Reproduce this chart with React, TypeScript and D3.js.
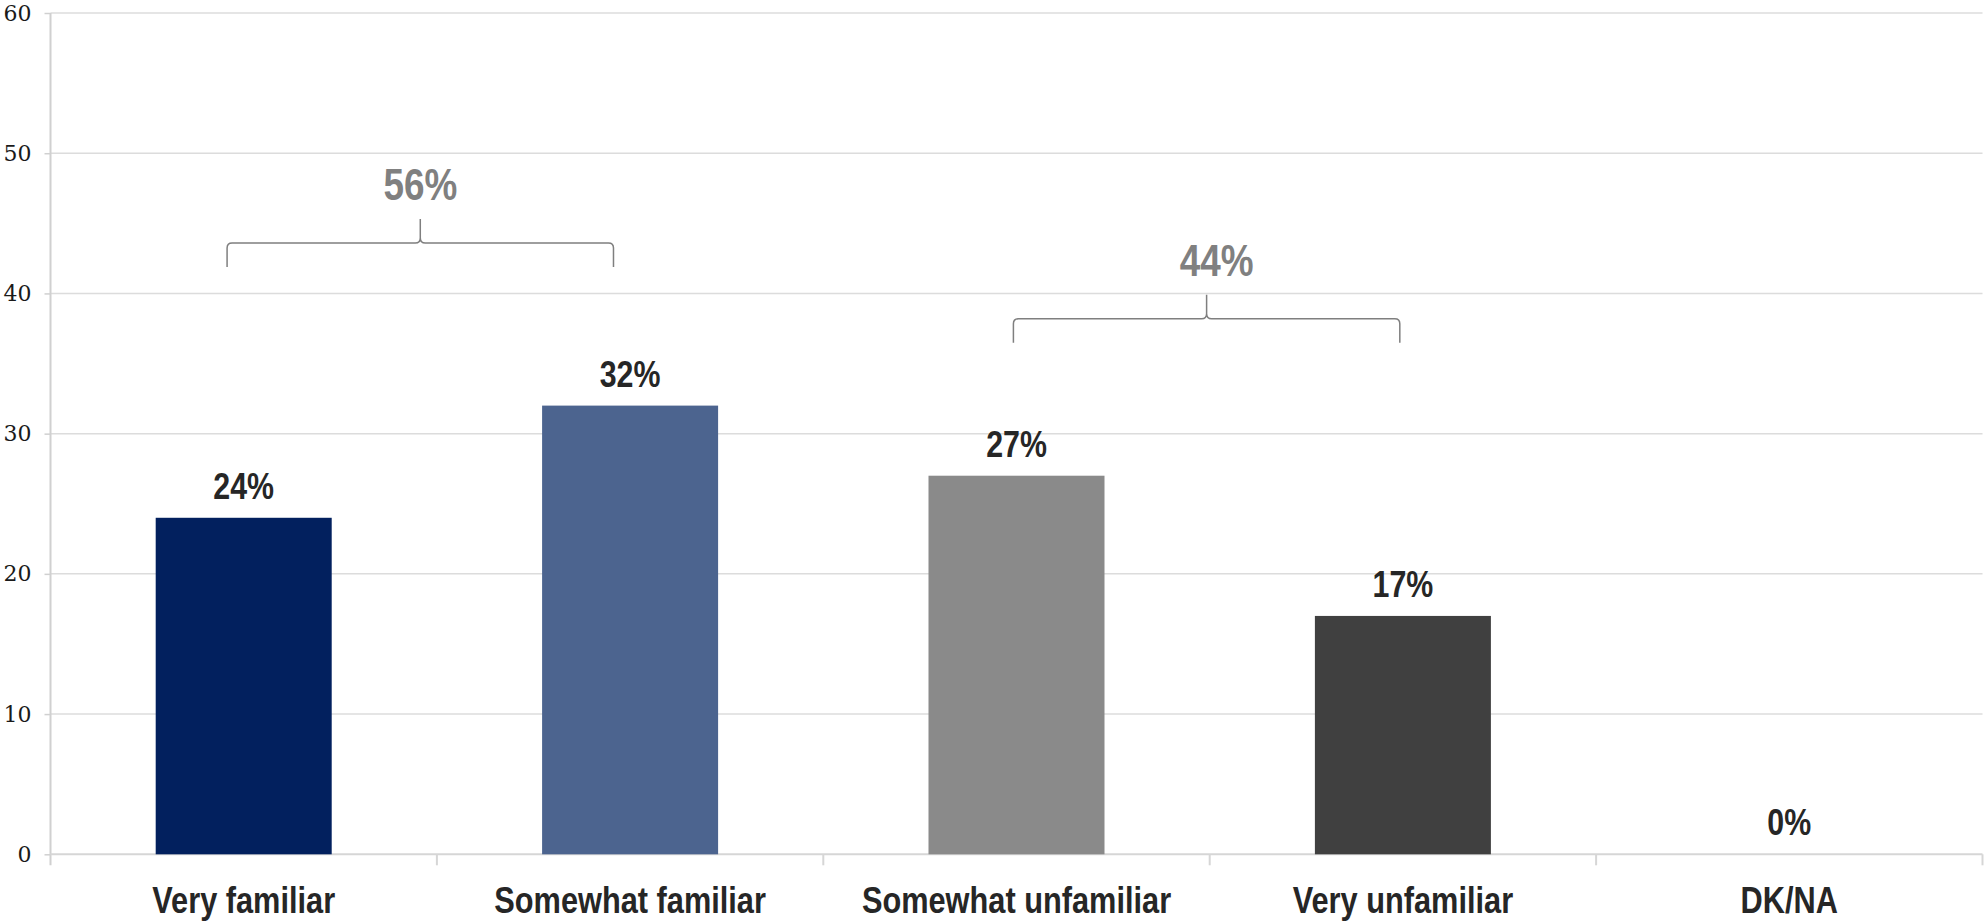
import { useEffect, useRef } from "react";
import * as d3 from "d3";

// chart data
const categories = ["Very familiar", "Somewhat familiar", "Somewhat unfamiliar", "Very unfamiliar", "DK/NA"];
const values = [24, 32, 27, 17, 0];
const barColors = ["#02205e", "#4c648f", "#8a8a8a", "#404040", "#404040"];
const yTicks = [0, 10, 20, 30, 40, 50, 60];

// grouped totals shown with braces
const groupLabels = ["56%", "44%"];
const groupFrom = [0, 2];
const groupTo = [1, 3];
const groupLevel = [43.6, 38.2];

const W = 1985;
const H = 922;
const NARROW = 0.82; // fake Arial Narrow by squeezing Liberation Sans

const App = () => {
    const ref = useRef<SVGSVGElement | null>(null);

    useEffect(() => {
        if (!ref.current) return;
        const svg = d3.select(ref.current);
        svg.selectAll("*").remove();

        const left = 50.5, right = 1982.5, top = 13, bottom = 854.3;

        const x = d3.scaleBand<string>()
            .domain(categories)
            .range([left, right])
            .padding(0);

        const y = d3.scaleLinear()
            .domain([0, 60])
            .range([bottom, top]);

        const bw = x.bandwidth();
        const barW = bw * 0.4555;

        // gridlines
        svg.append("g")
            .selectAll("line")
            .data(yTicks.filter(d => d > 0))
            .join("line")
            .attr("x1", left)
            .attr("x2", right)
            .attr("y1", d => y(d))
            .attr("y2", d => y(d))
            .attr("stroke", "#dcdcdc")
            .attr("stroke-width", 1.5);

        // y axis
        const yAxis = svg.append("g")
            .attr("transform", `translate(${left},0)`)
            .call(d3.axisLeft(y).tickValues(yTicks).tickSize(6).tickPadding(13).tickFormat(d3.format("d")));
        yAxis.select(".domain").remove();
        yAxis.attr("font-size", 22).attr("font-family", "'DejaVu Serif', serif");
        yAxis.selectAll(".tick line").attr("stroke", "#d0d0d0").attr("stroke-width", 1.5);
        yAxis.selectAll(".tick text")
            .attr("fill", "#1a1a1a")
            .style("font-family", "'DejaVu Serif', serif")
            .style("font-size", "22px");
        svg.append("line")
            .attr("x1", left).attr("x2", left)
            .attr("y1", top).attr("y2", bottom + 11)
            .attr("stroke", "#d0d0d0")
            .attr("stroke-width", 2);

        // x axis
        svg.append("line")
            .attr("x1", left).attr("x2", right)
            .attr("y1", bottom).attr("y2", bottom)
            .attr("stroke", "#d6d6d6")
            .attr("stroke-width", 2);
        svg.append("g")
            .selectAll("line")
            .data(categories)
            .join("line")
            .attr("x1", d => (x(d) as number) + bw)
            .attr("x2", d => (x(d) as number) + bw)
            .attr("y1", bottom)
            .attr("y2", bottom + 11)
            .attr("stroke", "#d6d6d6")
            .attr("stroke-width", 2);

        // bars
        svg.append("g")
            .selectAll("rect")
            .data(values)
            .join("rect")
            .attr("x", (_, i) => (x(categories[i]) as number) + (bw - barW) / 2)
            .attr("y", d => y(d))
            .attr("width", barW)
            .attr("height", d => bottom - y(d))
            .attr("fill", (_, i) => barColors[i]);

        const narrowText = (g: d3.Selection<SVGGElement, unknown, null, undefined>, cx: number, cy: number, txt: string, size: number, color: string) => {
            g.append("text")
                .attr("transform", `translate(${cx},${cy}) scale(${NARROW},1)`)
                .attr("text-anchor", "middle")
                .attr("fill", color)
                .style("font-family", "'Liberation Sans', Arial, sans-serif")
                .style("font-weight", "bold")
                .style("font-size", `${size}px`)
                .text(txt);
        };

        // value labels
        const lbl = svg.append("g");
        values.forEach((v, i) => {
            const cx = (x(categories[i]) as number) + bw / 2;
            narrowText(lbl, cx, y(v) - 19, `${v}%`, 37, "#262626");
        });

        // category labels
        const cat = svg.append("g");
        categories.forEach(c => {
            narrowText(cat, (x(c) as number) + bw / 2, 912.5, c, 37.5, "#262626");
        });

        // braces
        const braceFrac = [0.457, 0.492];
        const labelDx = [0, 10];
        const br = svg.append("g");
        groupLabels.forEach((g, i) => {
            const x0 = (x(categories[groupFrom[i]]) as number) + bw * braceFrac[i];
            const x1 = (x(categories[groupTo[i]]) as number) + bw * braceFrac[i];
            const xc = (x0 + x1) / 2;
            const yh = y(groupLevel[i]);
            const r = 5;
            const p = d3.path();
            p.moveTo(x0, yh + 24);
            p.lineTo(x0, yh + r);
            p.quadraticCurveTo(x0, yh, x0 + r, yh);
            p.lineTo(xc - r, yh);
            p.quadraticCurveTo(xc, yh, xc, yh - r);
            p.lineTo(xc, yh - 24);
            p.moveTo(x1, yh + 24);
            p.lineTo(x1, yh + r);
            p.quadraticCurveTo(x1, yh, x1 - r, yh);
            p.lineTo(xc + r, yh);
            p.quadraticCurveTo(xc, yh, xc, yh - r);
            br.append("path")
                .attr("d", p.toString())
                .attr("fill", "none")
                .attr("stroke", "#7f7f7f")
                .attr("stroke-width", 1.5);
            narrowText(br, xc + labelDx[i], yh - 42.5, g, 45, "#808080");
        });
    }, []);

    return (
        <svg
            ref={ref}
            width={W}
            height={H}
            style={{ position: "absolute", left: 0, top: 0, background: "#fff" }}
        />
    );
};

export default App;
